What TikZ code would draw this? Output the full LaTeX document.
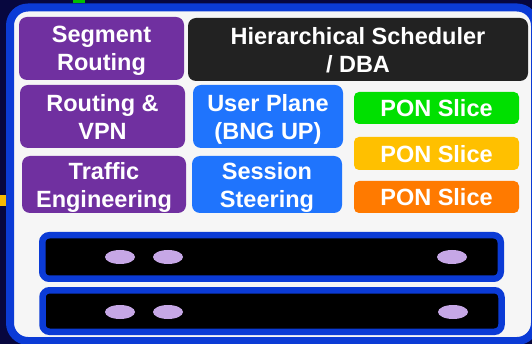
\documentclass[tikz,border=0pt]{standalone}
\usepackage{fontspec}
\setmainfont{Liberation Sans}
\usetikzlibrary{shapes.geometric}

\definecolor{navy}{HTML}{07073F}
\definecolor{frameblue}{HTML}{0B3BD6}
\definecolor{panel}{HTML}{F6F6F6}
\definecolor{purplebox}{HTML}{7030A0}
\definecolor{darkbox}{HTML}{222222}
\definecolor{bluebox}{HTML}{1F74FD}
\definecolor{sliceA}{HTML}{00E000}
\definecolor{sliceB}{HTML}{FFC000}
\definecolor{sliceC}{HTML}{FF7A00}
\definecolor{lilac}{HTML}{C6A7E6}
\definecolor{markgreen}{HTML}{00C000}
\definecolor{markorange}{HTML}{F8BA00}

\tikzset{
  tile/.style={rounded corners=8pt, inner sep=0pt, text=white, text depth=0pt,
    font=\bfseries\fontsize{23.5}{28}\selectfont, align=center},
  slice/.style={tile, rounded corners=5pt, minimum width=165pt},
  rail/.style={draw=frameblue, line width=6.5pt, fill=black,
    rounded corners=7pt, inner sep=0pt},
  port/.style={ellipse, fill=lilac, inner sep=0pt,
    minimum width=30pt, minimum height=14pt}
}

\begin{document}
\begin{tikzpicture}[x=1pt,y=-1pt]
\useasboundingbox (0,0) rectangle (532,344);

% background and frame
\fill[navy] (0,0) rectangle (532,344);
\fill[markgreen] (73,0) rectangle (85,3);
\fill[markorange] (0,195) rectangle (6,206);
\draw[frameblue, line width=8pt, fill=panel, rounded corners=18pt]
  (10,7.5) rectangle (535,341);

% function tiles
\node[tile, fill=purplebox, minimum width=165pt, minimum height=63pt]
  (sr) at (101.5,48.5) {Segment\\Routing};
\node[tile, fill=darkbox, minimum width=340pt, minimum height=63pt]
  (hs) at (358,49.5) {Hierarchical Scheduler\\/ DBA};
\node[tile, fill=purplebox, minimum width=165pt, minimum height=63pt]
  (vpn) at (102.5,116.5) {Routing \&\\VPN};
\node[tile, fill=purplebox, minimum width=164pt, minimum height=57pt]
  (te) at (104,184.5) {Traffic\\Engineering};
\node[tile, fill=bluebox, minimum width=150pt, minimum height=63pt]
  (up) at (268,116.5) {User Plane\\(BNG UP)};
\node[tile, fill=bluebox, minimum width=150pt, minimum height=57pt]
  (ss) at (267,184.5) {Session\\Steering};

% PON slices
\node[slice, fill=sliceA, minimum height=32pt] (p1) at (436.5,108) {PON Slice};
\node[slice, fill=sliceB, minimum height=33pt] (p2) at (436.5,153.5) {PON Slice};
\node[slice, fill=sliceC, minimum height=32pt] (p3) at (436.5,197) {PON Slice};

% line-card rails with ports
\node[rail, minimum width=458.5pt, minimum height=43.5pt] (r1) at (271.5,257) {};
\node[rail, minimum width=459pt, minimum height=41.5pt] (r2) at (272,311) {};

\node[port] (a1) at (120,257) {};
\node[port] (a2) at (168,257) {};
\node[port] (a3) at (452,257) {};
\node[port] (b1) at (120,312) {};
\node[port] (b2) at (168,312) {};
\node[port] (b3) at (453,312) {};
\end{tikzpicture}
\end{document}
